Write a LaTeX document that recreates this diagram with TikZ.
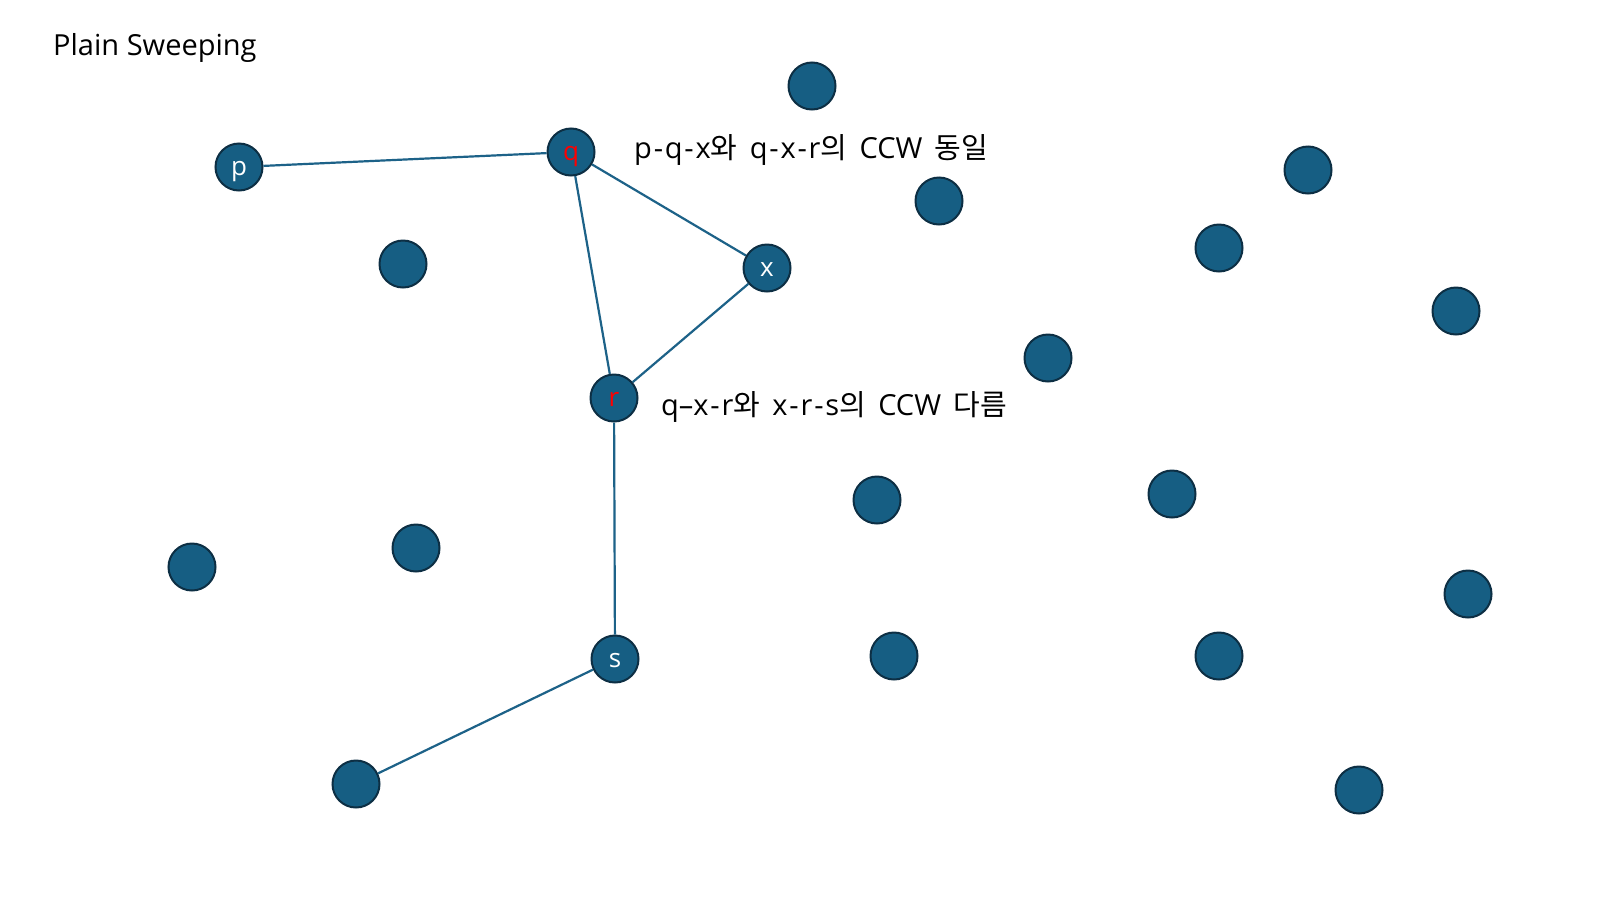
\documentclass[tikz,border=0pt]{standalone}
\usepackage{fontspec}
\setmainfont{Open Sans}
\newfontfamily\kr{Noto Sans CJK KR}
\newcommand{\hy}{\kern1.8pt-\kern1.8pt}
\begin{document}
\begin{tikzpicture}[x=1pt,y=-1pt,
  pt/.style={circle,draw=ptborder,fill=ptfill,line width=2pt,minimum size=47pt,inner sep=0pt,text=white,text height=17pt,text depth=1pt,font=\fontsize{26}{26}\selectfont},
  redlab/.style={text=red},
  edge/.style={draw=edgecol,line width=2.2pt},
  lab/.style={anchor=west,inner sep=0pt,font=\fontsize{29}{29}\selectfont}]
\definecolor{ptfill}{HTML}{165E83}
\definecolor{ptborder}{HTML}{0D2F44}
\definecolor{edgecol}{HTML}{1D6288}
\useasboundingbox (0,0) rectangle (1600,900);
\fill[white] (0,0) rectangle (1600,900);
\node[lab] (title) at (53,48) {Plain Sweeping};
\node[pt] (p) at (239,167) {p};
\node[pt,redlab] (q) at (571,152) {q};
\node[pt] (x) at (767,268) {x};
\node[pt,redlab] (r) at (614,398) {r};
\node[pt] (s) at (615,659) {s};
\node[pt] (a1) at (356,784) {};
\node[pt] (a2) at (812,86) {};
\node[pt] (a3) at (939,201) {};
\node[pt] (a4) at (403,264) {};
\node[pt] (a5) at (1308,170) {};
\node[pt] (a6) at (1219,248) {};
\node[pt] (a7) at (1456,311) {};
\node[pt] (a8) at (1048,358) {};
\node[pt] (a9) at (877,500) {};
\node[pt] (a10) at (1172,494) {};
\node[pt] (a11) at (192,567) {};
\node[pt] (a12) at (416,548) {};
\node[pt] (a13) at (1468,594) {};
\node[pt] (a14) at (894,656) {};
\node[pt] (a15) at (1219,656) {};
\node[pt] (a16) at (1359,790) {};
\draw[edge] (p) -- (q);
\draw[edge] (q) -- (x);
\draw[edge] (q) -- (r);
\draw[edge] (x) -- (r);
\draw[edge] (r) -- (s);
\draw[edge] (s) -- (a1);
\node[lab] (t1) at (634,150) {p\hy q\hy x{\kr 와}\ \,q\hy x\hy r{\kr 의}\ \,CCW\ \,{\kr 동일}};
\node[lab] (t2) at (661,407) {q–x\hy r{\kr 와}\ \,x\hy r\hy s{\kr 의}\ \,CCW\ \,{\kr 다름}};
\end{tikzpicture}
\end{document}
